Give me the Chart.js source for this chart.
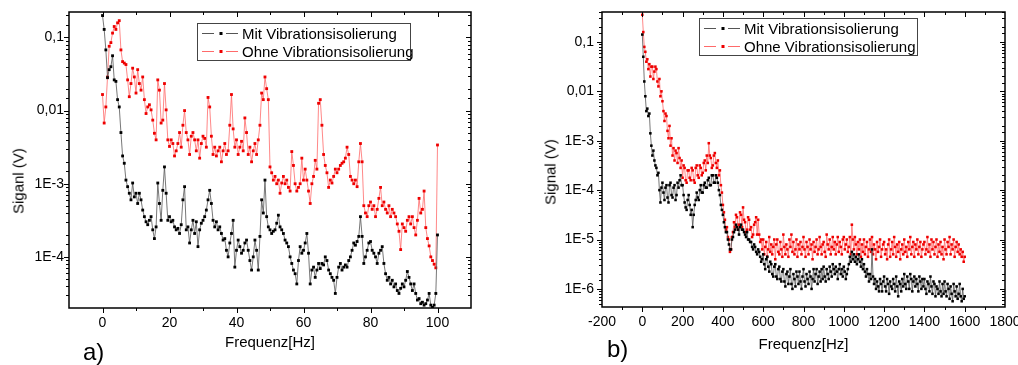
<!DOCTYPE html>
<html>
<head>
<meta charset="utf-8">
<title>Vibrationsisolierung</title>
<script src="https://cdn.jsdelivr.net/npm/chart.js@4.4.0/dist/chart.umd.min.js"></script>
<style>
  html, body { margin: 0; padding: 0; background: #fff; }
  body { width: 1018px; height: 365px; position: relative; overflow: hidden;
         font-family: "Liberation Sans", Arial, sans-serif; color: #000; }
  canvas { position: absolute; top: 0; }
  #chartA { left: 0; }
  #chartB { left: 500px; }
  .ytitle { position: absolute; font-size: 15px; white-space: nowrap;
            transform: translate(-50%, -50%) rotate(-90deg); }
  .panel { position: absolute; font-size: 24px; line-height: 1; }
</style>
</head>
<body>
<canvas id="chartA" width="500" height="365"></canvas>
<canvas id="chartB" width="518" height="365"></canvas>
<div class="ytitle" style="left:18px; top:181px;">Siganl (V)</div>
<div class="ytitle" style="left:550px; top:172px;">Signal (V)</div>
<div class="panel" style="left:83px; top:340px;">a)</div>
<div class="panel" style="left:607px; top:337px;">b)</div>

<script>
// Frequenzraster (Hz)
const stepA = 0.5;
const stepB = 5;

// Werte als log10(Signal / V), aus dem Bild abgelesen
// a) 0 ... 100 Hz, alle 0,5 Hz
const mitA = [
  -0.7, -0.89, -1.17, -1.55, -1.44, -1.40, -1.25, -1.58, -1.6, -1.85,
  -1.95, -2.3, -2.62, -2.72, -2.95, -3.04, -3.13, -3.22, -2.99, -3.18,
  -3.13, -3.27, -3.13, -3.22, -3.36, -3.45, -3.52, -3.56, -3.5, -3.45,
  -3.63, -3.75, -3.59, -2.99, -3.27, -3.5, -3.09, -2.77, -3.13, -3.5,
  -3.45, -3.52, -3.5, -3.59, -3.63, -3.61, -3.68, -3.56, -3.22, -3.04,
  -3.63, -3.59, -3.81, -3.63, -3.5, -3.68, -3.52, -3.86, -3.63, -3.54,
  -3.5, -3.45, -3.36, -3.22, -3.09, -3.27, -3.5, -3.59, -3.52, -3.63,
  -3.59, -3.68, -3.77, -3.75, -3.91, -4.0, -3.81, -3.68, -3.5, -4.14,
  -3.91, -3.77, -3.86, -3.95, -3.91, -3.81, -3.77, -3.91, -4.05, -4.18,
  -4.0, -3.77, -3.91, -4.18, -3.72, -3.22, -3.4, -2.95, -3.45, -3.59,
  -3.63, -3.68, -3.65, -3.63, -3.54, -3.43, -3.59, -3.63, -3.68, -3.77,
  -3.81, -3.86, -4.0, -4.09, -4.18, -4.23, -4.37, -4.05, -3.86, -3.95,
  -3.91, -3.81, -3.68, -3.95, -4.37, -4.18, -4.14, -4.28, -4.18, -4.09,
  -4.16, -4.09, -4.11, -4.0, -4.05, -4.18, -4.23, -4.28, -4.32, -4.5,
  -4.28, -4.14, -4.09, -4.18, -4.14, -4.11, -4.14, -4.05, -4.0, -3.91,
  -3.81, -3.84, -3.79, -3.72, -3.45, -3.72, -4.09, -4.0, -3.91, -3.81,
  -3.79, -3.91, -3.95, -4.0, -4.09, -3.95, -3.91, -3.86, -4.09, -4.23,
  -4.32, -4.28, -4.37, -4.32, -4.41, -4.37, -4.46, -4.5, -4.43, -4.37,
  -4.41, -4.32, -4.2, -4.28, -4.37, -4.46, -4.37, -4.5, -4.59, -4.57,
  -4.64, -4.62, -4.66, -4.64, -4.59, -4.5, -4.66, -4.69, -4.66, -4.5,
  -3.7
];
const ohneA = [
  -1.78, -2.17, -1.95, -1.54, -1.12, -1.07, -0.94, -0.85, -0.89, -0.8,
  -0.77, -1.17, -1.33, -1.35, -1.37, -1.58, -1.81, -1.63, -1.42, -1.54,
  -1.76, -1.44, -1.63, -1.72, -1.54, -1.85, -2.04, -1.95, -1.92, -1.99,
  -2.13, -2.31, -2.4, -1.58, -1.72, -2.17, -2.13, -1.63, -1.99, -2.4,
  -2.49, -2.4, -2.45, -2.62, -2.55, -2.45, -2.3, -2.5, -2.2, -2.0,
  -2.3, -2.4, -2.6, -2.35, -2.3, -2.4, -2.55, -2.4, -2.65, -2.45,
  -2.35, -2.38, -2.5, -1.82, -1.95, -2.35, -2.6, -2.5, -2.62, -2.55,
  -2.5, -2.7, -2.55, -2.45, -2.6, -2.55, -2.2, -1.78, -2.25, -2.5,
  -2.4, -2.6, -2.5, -2.42, -2.55, -2.1, -2.3, -2.6, -2.5, -2.7,
  -2.55, -2.45, -2.6, -2.4, -2.2, -1.76, -1.85, -1.54, -1.7, -1.85,
  -2.77, -2.85, -2.95, -2.9, -3.0, -2.95, -3.13, -2.99, -2.9, -3.0,
  -2.95, -3.05, -3.1, -2.56, -2.75, -3.0, -3.1, -3.05, -3.0, -2.65,
  -2.95, -2.8, -2.95, -3.1, -3.27, -3.0, -2.9, -2.68, -2.8, -1.9,
  -1.85, -2.2, -2.6, -2.75, -2.85, -3.05, -2.95, -2.99, -2.9, -2.8,
  -2.85, -2.8, -2.75, -2.72, -2.7, -2.65, -2.5, -2.6, -2.9, -2.95,
  -3.0, -2.95, -3.04, -2.7, -2.45, -2.7, -3.3, -3.4, -3.45, -3.3,
  -3.25, -3.35, -3.3, -3.45, -3.35, -3.2, -3.05, -3.3, -3.25, -3.35,
  -3.4, -3.3, -3.45, -3.35, -3.4, -3.45, -3.55, -3.65, -3.9, -3.55,
  -3.6, -3.65, -3.5, -3.45, -3.55, -3.45, -3.6, -3.7, -3.5, -3.2,
  -3.4, -3.35, -3.1, -3.6, -3.75, -3.85, -4.0, -4.05, -4.1, -4.15,
  -2.47
];

// b) 0 ... 1600 Hz, alle 5 Hz (eine Zeile = 100 Hz)
const mitB = [
  -0.85, -1.3, -1.8, -2.1, -2.4, -2.35, -2.5, -2.45, -2.85, -3.1, -3.3, -3.2, -3.4, -3.5, -3.55, -3.7, -3.65, -4.0, -4.25, -3.95,
  -3.85, -4.05, -4.2, -3.95, -3.9, -4.15, -4.25, -3.9, -3.85, -4.1, -4.15, -3.95, -3.9, -4.2, -4.1, -3.85, -3.95, -3.8, -3.7, -3.9,
  -3.9, -4.1, -4.25, -4.35, -4.4, -4.2, -4.1, -4.3, -4.5, -4.4, -4.75, -4.5, -4.3, -4.2, -4.05, -4.15, -4.2, -4.0, -3.9, -4.05,
  -4.05, -3.9, -3.85, -3.95, -3.95, -3.8, -3.75, -3.9, -3.9, -3.7, -3.7, -3.85, -3.85, -3.7, -3.75, -3.85, -4.0, -4.1, -4.3, -4.4,
  -4.5, -4.65, -4.75, -4.85, -4.85, -5.0, -5.1, -5.2, -5.2, -5.0, -4.95, -4.85, -4.8, -4.7, -4.75, -4.8, -4.9, -4.75, -4.7, -4.8,
  -4.8, -4.85, -4.9, -4.95, -4.85, -5.0, -5.0, -5.05, -5.05, -5.15, -5.2, -5.1, -5.15, -5.25, -5.3, -5.2, -5.25, -5.35, -5.45, -5.4,
  -5.3, -5.5, -5.6, -5.4, -5.35, -5.55, -5.65, -5.45, -5.5, -5.7, -5.75, -5.55, -5.5, -5.75, -5.8, -5.6, -5.55, -5.8, -5.85, -5.65,
  -5.6, -5.85, -5.95, -5.7, -5.65, -5.9, -5.75, -5.6, -5.9, -6.0, -5.7, -5.8, -5.95, -5.65, -5.75, -5.9, -5.65, -5.85, -6.0, -5.75,
  -5.6, -5.85, -5.95, -5.7, -5.8, -5.9, -5.65, -5.75, -6.0, -5.8, -5.6, -5.85, -5.7, -5.6, -5.9, -5.75, -5.65, -5.85, -5.6, -5.8,
  -5.55, -5.75, -5.85, -5.6, -5.7, -5.8, -5.55, -5.65, -5.75, -5.5, -5.6, -5.7, -5.55, -5.65, -5.8, -5.6, -5.5, -5.7, -5.6, -5.75,
  -5.55, -5.65, -5.8, -5.7, -5.6, -5.5, -5.35, -5.45, -5.25, -5.4, -5.3, -5.45, -5.35, -5.5, -5.4, -5.3, -5.45, -5.55, -5.4, -5.6,
  -5.5, -5.65, -5.75, -5.6, -5.7, -5.85, -5.7, -5.8, -5.2, -5.75, -5.9, -5.8, -6.0, -5.85, -5.95, -6.05, -5.8, -5.9, -6.05, -5.85,
  -5.75, -5.95, -6.05, -5.8, -5.9, -6.1, -5.85, -5.95, -6.0, -5.8, -5.9, -6.05, -5.75, -5.95, -6.15, -5.85, -5.9, -6.05, -5.8, -5.95,
  -5.7, -5.9, -6.0, -5.75, -5.85, -6.0, -5.7, -5.8, -6.05, -5.85, -5.75, -5.95, -5.8, -5.9, -6.05, -5.75, -5.85, -6.0, -5.8, -5.95,
  -5.8, -6.0, -6.1, -5.85, -5.9, -6.05, -5.75, -5.95, -6.1, -5.85, -5.9, -6.15, -5.95, -6.0, -6.1, -5.85, -6.05, -6.15, -5.9, -6.1,
  -5.85, -6.05, -6.15, -5.9, -6.0, -6.2, -5.95, -6.1, -6.25, -5.9, -6.05, -6.15, -5.95, -6.2, -6.1, -5.9, -6.15, -6.25, -6.0, -6.2,
  -6.15
];
const ohneB = [
  -0.45, -0.8, -1.1, -1.2, -1.4, -1.35, -1.55, -1.45, -1.7, -1.5, -1.5, -1.75, -1.6, -1.5, -1.55, -1.8, -1.9, -1.75, -2.1, -2.0,
  -2.2, -2.4, -2.6, -2.45, -2.5, -2.8, -2.95, -2.7, -3.1, -2.95, -3.3, -3.15, -3.4, -3.2, -3.25, -3.45, -3.15, -3.35, -3.55, -3.4,
  -3.75, -3.5, -3.55, -3.8, -3.85, -3.6, -3.6, -3.75, -3.8, -3.55, -3.6, -3.8, -3.85, -3.55, -3.5, -3.7, -3.75, -3.5, -3.55, -3.7,
  -3.65, -3.45, -3.4, -3.6, -3.3, -3.45, -3.05, -3.3, -3.35, -3.55, -3.5, -3.3, -3.25, -3.45, -3.55, -3.4, -3.7, -3.6, -3.9, -4.05,
  -4.3, -4.45, -4.6, -4.8, -4.75, -4.95, -5.0, -5.25, -5.2, -4.95, -4.85, -4.65, -4.75, -4.5, -4.55, -4.8, -4.7, -4.45, -4.5, -4.75,
  -4.35, -4.6, -4.65, -4.85, -4.8, -4.55, -4.6, -4.8, -4.75, -4.95, -4.9, -4.7, -4.65, -4.55, -4.9, -4.6, -4.9, -5.05, -5.0, -5.2,
  -5.0, -5.3, -5.15, -5.05, -5.35, -5.2, -4.95, -5.25, -5.1, -5.3, -5.15, -5.0, -5.4, -5.1, -5.0, -5.25, -5.3, -5.05, -5.2, -5.35,
  -4.9, -5.15, -5.3, -5.1, -5.2, -5.35, -5.0, -5.15, -4.9, -5.25, -5.05, -5.3, -5.2, -5.0, -5.35, -5.1, -5.2, -5.05, -5.3, -5.15,
  -4.95, -5.2, -5.35, -5.05, -5.15, -5.3, -5.0, -5.2, -5.1, -5.4, -5.05, -5.25, -5.15, -5.0, -5.3, -5.2, -4.95, -5.15, -5.3, -5.1,
  -5.05, -5.25, -5.35, -4.9, -5.1, -5.2, -5.0, -5.3, -5.15, -4.95, -5.2, -5.05, -5.3, -5.1, -4.95, -5.25, -5.05, -5.15, -5.3, -5.0,
  -4.95, -5.2, -5.1, -5.0, -5.25, -5.15, -4.95, -5.3, -4.7, -5.0, -5.2, -4.95, -5.1, -5.3, -5.05, -5.2, -5.0, -5.35, -5.1, -5.25,
  -5.0, -5.3, -5.15, -5.05, -5.35, -5.2, -5.0, -5.25, -4.95, -5.3, -5.1, -5.2, -5.4, -5.05, -5.25, -5.15, -5.0, -5.35, -5.2, -5.1,
  -5.05, -5.3, -5.2, -5.4, -5.1, -5.0, -5.35, -5.2, -5.05, -5.3, -4.95, -5.15, -5.35, -5.1, -5.25, -5.05, -5.4, -5.2, -5.1, -5.3,
  -5.0, -5.25, -5.15, -5.35, -5.05, -5.2, -4.95, -5.3, -5.15, -5.05, -5.35, -5.1, -5.2, -5.0, -5.3, -5.15, -5.05, -5.35, -5.2, -5.1,
  -5.05, -5.3, -5.2, -4.95, -5.25, -5.1, -5.35, -5.0, -5.2, -5.05, -5.3, -5.15, -5.0, -5.35, -5.1, -5.25, -5.05, -5.3, -5.15, -5.4,
  -5.0, -5.2, -5.3, -5.05, -5.15, -4.95, -5.3, -5.1, -5.2, -5.0, -5.35, -5.15, -5.05, -5.25, -5.1, -5.3, -5.2, -5.35, -5.25, -5.45,
  -5.35
];

// Achsenbeschriftung der Dekaden: 10^-1, 10^-2, ...
const decadeLabels = ['0,1', '0,01', '1E-3', '1E-4', '1E-5', '1E-6'];
const seriesNames = ['Mit Vibrationsisolierung', 'Ohne Vibrationsisolierung'];

const FONT = '"Liberation Sans", Arial, sans-serif';
Chart.defaults.font.family = FONT;
Chart.defaults.color = '#000';

function toPoints(logs, step) {
  return logs.map((v, i) => ({ x: i * step, y: Math.pow(10, v) }));
}

function decadeLabel(v) {
  const e = Math.log10(v);
  const r = Math.round(e);
  if (Math.abs(e - r) > 1e-6) return '';
  return decadeLabels[-r - 1] || '';
}

// Rahmen mit Haupt- und Nebenstrichen (links/unten nach aussen, oben/rechts nach innen)
const frame = {
  id: 'frame',
  afterDraw(chart) {
    const { ctx, chartArea: a } = chart;
    const sx = chart.scales.x, sy = chart.scales.y;
    ctx.save();
    ctx.strokeStyle = '#000';
    ctx.lineWidth = 1;
    ctx.beginPath();
    sx.ticks.forEach(t => {
      if (t.value <= sx.min || t.value >= sx.max) return;
      const p = Math.round(sx.getPixelForValue(t.value)) + 0.5;
      const len = t.label === '' ? 3 : 5;
      ctx.moveTo(p, a.bottom); ctx.lineTo(p, a.bottom + len);
      ctx.moveTo(p, a.top); ctx.lineTo(p, a.top + len);
    });
    sy.ticks.forEach(t => {
      if (t.value <= sy.min || t.value >= sy.max) return;
      const p = Math.round(sy.getPixelForValue(t.value)) + 0.5;
      const len = t.label === '' ? 3 : 5;
      ctx.moveTo(a.left - len, p); ctx.lineTo(a.left, p);
      ctx.moveTo(a.right - len, p); ctx.lineTo(a.right, p);
    });
    ctx.stroke();
    ctx.lineWidth = 1.5;
    ctx.strokeRect(a.left, a.top, a.right - a.left, a.bottom - a.top);
    ctx.restore();
  }
};

// Legende im Kasten, wie im Original
const boxLegend = {
  id: 'boxLegend',
  afterDraw(chart, args, o) {
    const ctx = chart.ctx;
    ctx.save();
    ctx.fillStyle = '#fff';
    ctx.fillRect(o.x, o.y, o.w, o.h);
    ctx.strokeStyle = '#444';
    ctx.lineWidth = 1;
    ctx.strokeRect(o.x + 0.5, o.y + 0.5, o.w, o.h);
    chart.data.datasets.forEach((ds, i) => {
      const cy = Math.round(o.rows[i]) + 0.5;
      ctx.strokeStyle = ds.borderColor;
      ctx.beginPath();
      ctx.moveTo(o.x + 5, cy); ctx.lineTo(o.x + 17, cy);
      ctx.moveTo(o.x + 29, cy); ctx.lineTo(o.x + 41, cy);
      ctx.stroke();
      ctx.fillStyle = ds.pointBackgroundColor;
      ctx.fillRect(o.x + 22.5, cy - 1.5, 3, 3);
      ctx.fillStyle = '#000';
      ctx.font = '15px ' + FONT;
      ctx.textBaseline = 'middle';
      ctx.fillText(ds.label, o.x + 45, cy + 1);
    });
    ctx.restore();
  }
};

function makeChart(id, c) {
  return new Chart(document.getElementById(id), {
    type: 'line',
    data: {
      datasets: [
        {
          label: seriesNames[0],
          data: toPoints(c.mit, c.step),
          borderColor: '#555555',
          borderWidth: 0.8,
          pointStyle: 'rect',
          pointRadius: c.dot,
          pointBorderWidth: 0,
          pointBackgroundColor: '#000000',
          tension: 0
        },
        {
          label: seriesNames[1],
          data: toPoints(c.ohne, c.step),
          borderColor: '#ff6a6a',
          borderWidth: 0.8,
          pointStyle: 'rect',
          pointRadius: c.dot,
          pointBorderWidth: 0,
          pointBackgroundColor: '#ee0000',
          tension: 0
        }
      ]
    },
    options: {
      responsive: false,
      animation: false,
      events: [],
      layout: { padding: { left: 0, top: 12, right: c.padRight, bottom: 0 } },
      plugins: {
        legend: { display: false },
        tooltip: { enabled: false },
        boxLegend: c.legend
      },
      scales: {
        x: {
          type: 'linear',
          min: c.xMin,
          max: c.xMax,
          grid: { display: false, drawTicks: false },
          border: { display: false },
          ticks: {
            stepSize: c.xMinor,
            autoSkip: false,
            maxRotation: 0,
            padding: 7,
            font: { size: 14 },
            callback: v => (v % c.xMajor === 0 && v >= c.xLabelMin && v <= c.xLabelMax) ? String(v) : ''
          },
          title: {
            display: true,
            text: 'Frequenz[Hz]',
            font: { size: 15 },
            padding: { top: 0, bottom: c.titlePad }
          },
          afterFit: s => { s.height = c.xHeight; s.paddingLeft = 0; s.paddingRight = 0; }
        },
        y: {
          type: 'logarithmic',
          min: c.yMin,
          max: c.yMax,
          grid: { display: false, drawTicks: false },
          border: { display: false },
          ticks: {
            autoSkip: false,
            padding: c.yPad,
            font: { size: 14 },
            callback: v => decadeLabel(v)
          },
          afterFit: s => { s.width = c.yWidth; s.paddingTop = 0; s.paddingBottom = 0; }
        }
      }
    },
    plugins: [frame, boxLegend]
  });
}

makeChart('chartA', {
  mit: mitA, ohne: ohneA, step: stepA, dot: 2,
  xMin: -10, xMax: 110, xMinor: 10, xMajor: 20, xLabelMin: 0, xLabelMax: 100,
  yMin: 2e-5, yMax: 0.223,
  padRight: 29, yWidth: 69, xHeight: 57, yPad: 5, titlePad: 13,
  legend: { x: 197, y: 23, w: 213, h: 37, rows: [33, 51] }
});

makeChart('chartB', {
  mit: mitB, ohne: ohneB, step: stepB, dot: 1.8,
  xMin: -200, xMax: 1800, xMinor: 100, xMajor: 200, xLabelMin: -200, xLabelMax: 1800,
  yMin: 4.3e-7, yMax: 0.404,
  padRight: 13, yWidth: 102, xHeight: 58, yPad: 8, titlePad: 11,
  legend: { x: 199, y: 18, w: 218, h: 37, rows: [28, 46] }
});
</script>
</body>
</html>
